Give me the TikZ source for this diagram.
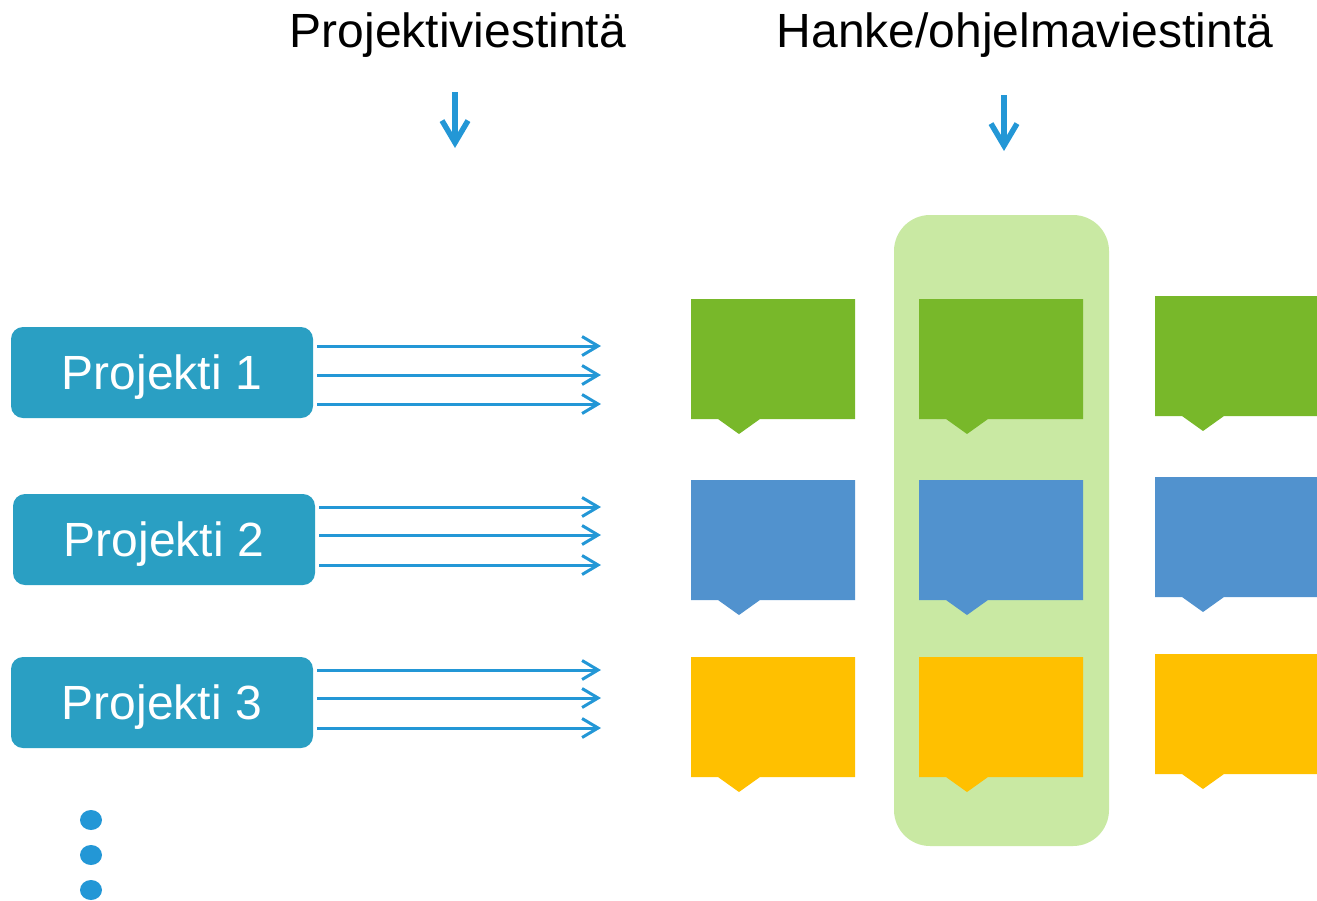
\documentclass[tikz,border=0pt]{standalone}
\usepackage{fontspec}
\setmainfont{Liberation Sans}
\usetikzlibrary{arrows.meta}
\definecolor{projbox}{HTML}{2A9FC3}
\definecolor{arrblue}{HTML}{2397D6}
\definecolor{cgreen}{HTML}{78B82A}
\definecolor{cblue}{HTML}{5192CE}
\definecolor{cyellow}{HTML}{FFC000}
\definecolor{lightgreen}{HTML}{C9E9A3}
\tikzset{
  projnode/.style={fill=projbox, rounded corners=12pt, minimum width=302pt, minimum height=91pt,
    text=white, font=\fontsize{48}{48}\selectfont, text height=34pt, text depth=0pt, inner sep=0pt},
  thinarr/.style={draw=arrblue, line width=3pt, -{Straight Barb[length=16pt,width=19pt]}},
  bigarr/.style={draw=arrblue, line width=5.5pt, -{Straight Barb[length=22pt,width=26pt]}},
  title/.style={font=\fontsize{48}{48}\selectfont, anchor=base, inner sep=0pt},
  dot/.style={fill=arrblue, draw=none}
}
\newcommand{\callout}[4]{% x1, ytop, fill colour, xright
  \fill[#3] (#1,#2) -- (#4,#2) -- (#4,#2+120) -- (#1+69,#2+120) -- (#1+48,#2+135) -- (#1+27,#2+120) -- (#1,#2+120) -- cycle;
}
\begin{document}
\begin{tikzpicture}[x=1pt,y=-1pt]
\useasboundingbox (0,0) rectangle (1317,900);

% titles
\node[title] (t1) at (458,47) {Projektiviestintä};
\node[title] (t2) at (1025,47) {Hanke/ohjelmaviestintä};
\coordinate (a1s) at (455,92); \coordinate (a1e) at (455,148);
\coordinate (a2s) at (1004,95); \coordinate (a2e) at (1004,151);
\draw[bigarr] (a1s) -- (a1e);
\draw[bigarr] (a2s) -- (a2e);

% project boxes
\node[projnode] (p1) at (162,372.5) {Projekti 1};
\node[projnode] (p2) at (164,539.5) {Projekti 2};
\node[projnode] (p3) at (162,702.5) {Projekti 3};

\foreach \n/\ya/\yb/\yc in {1/346/375/404, 2/507/535/565, 3/670/698/728}{
  \coordinate (e\n a) at (601,\ya);
  \coordinate (e\n b) at (601,\yb);
  \coordinate (e\n c) at (601,\yc);
  \draw[thinarr] (p\n.east |- e\n a) ++(4,0) -- (e\n a);
  \draw[thinarr] (p\n.east |- e\n b) ++(4,0) -- (e\n b);
  \draw[thinarr] (p\n.east |- e\n c) ++(4,0) -- (e\n c);
}

% dots
\fill[dot] (91,820) ellipse (11pt and 10pt);
\fill[dot] (91,855) ellipse (11pt and 10pt);
\fill[dot] (91,890) ellipse (11pt and 10pt);

% highlighted column
\fill[lightgreen, rounded corners=36pt] (894,215) rectangle (1109,846);

% callouts
\callout{691}{299}{cgreen}{855}
\callout{919}{299}{cgreen}{1083}
\callout{1155}{296}{cgreen}{1317}
\callout{691}{480}{cblue}{855}
\callout{919}{480}{cblue}{1083}
\callout{1155}{477}{cblue}{1317}
\callout{691}{657}{cyellow}{855}
\callout{919}{657}{cyellow}{1083}
\callout{1155}{654}{cyellow}{1317}
\end{tikzpicture}
\end{document}
